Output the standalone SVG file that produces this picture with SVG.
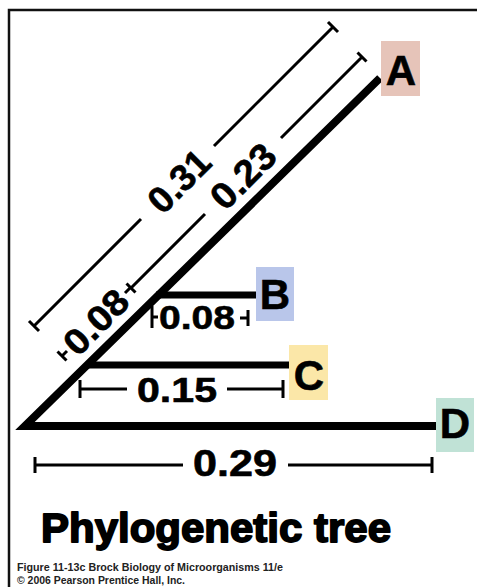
<svg xmlns="http://www.w3.org/2000/svg" width="477" height="587" viewBox="0 0 477 587">
<style>
.frame{fill:none;stroke:#111;stroke-width:2.5}
.branch{fill:none;stroke:#000;stroke-width:8;stroke-linejoin:miter;stroke-miterlimit:10}
.twig{stroke:#000;stroke-width:7}
.bar{stroke:#000;stroke-width:3;fill:none}
.num{font-family:"Liberation Sans",Arial,sans-serif;font-weight:bold;fill:#000;text-anchor:middle;stroke:#000;stroke-width:0.6}
.lbl{font-family:"Liberation Sans",Arial,sans-serif;font-weight:bold;font-size:42px;fill:#000;text-anchor:middle;stroke:#000;stroke-width:0.6}
.title{font-family:"Liberation Sans",Arial,sans-serif;font-weight:900;font-size:41px;fill:#000;stroke:#000;stroke-width:1.8;stroke-linejoin:round}
.cap{font-family:"Liberation Sans",Arial,sans-serif;font-weight:bold;font-size:11px;fill:#222}
</style>
<rect width="477" height="587" fill="#fff"/>
<path class="frame" d="M9,590 V10 H480"/>
<g id="connectors">
  <path class="branch" d="M380,78 L25,426 L437,426"/>
  <line class="twig" x1="156" y1="295" x2="257" y2="295"/>
  <line class="twig" x1="86" y1="365" x2="290" y2="365"/>
</g>
<g id="scale-0.31">
  <path class="bar" d="M34,326 L141,219 M214,146 L333,27 M29,321 L39,331 M328,22 L338,32"/>
  <text class="num" font-size="37" transform="translate(179,181) rotate(-45)" x="0" y="13" textLength="72" lengthAdjust="spacingAndGlyphs">0.31</text>
</g>
<g id="scale-0.23">
  <path class="bar" d="M131,288 L205,214 M281,138 L362,57 M126.5,283.5 L135.5,292.5 M357.5,52.5 L366.5,61.5"/>
  <text class="num" font-size="37" transform="translate(243,176) rotate(-45)" x="0" y="13" textLength="76" lengthAdjust="spacingAndGlyphs">0.23</text>
</g>
<g id="scale-0.08-diag">
  <path class="bar" d="M62,356 L67,351 M125,293 L131,287 M57.5,351.5 L66.5,360.5"/>
  <text class="num" font-size="36" transform="translate(96,322) rotate(-45)" x="0" y="12.5" textLength="76" lengthAdjust="spacingAndGlyphs">0.08</text>
</g>
<g id="scale-0.08-B">
  <path class="bar" d="M152,306 V328 M152,317 H158 M240,318 H248 M248,310 V326"/>
  <text class="num" font-size="34" x="197" y="329" textLength="76" lengthAdjust="spacingAndGlyphs">0.08</text>
</g>
<g id="scale-0.15">
  <path class="bar" d="M80,389 H127 M227,389 H283 M80,380 V398 M283,380 V398"/>
  <text class="num" font-size="35" x="177" y="402" textLength="80" lengthAdjust="spacingAndGlyphs">0.15</text>
</g>
<g id="scale-0.29">
  <path class="bar" d="M35,465 H183 M288,465 H432 M35,457 V473 M432,457 V473"/>
  <text class="num" font-size="36" x="235" y="476" textLength="84" lengthAdjust="spacingAndGlyphs">0.29</text>
</g>
<g id="node-A">
  <rect x="381" y="41" width="39" height="55" fill="#e6c4b9"/>
  <text class="lbl" x="401" y="85">A</text>
</g>
<g id="node-B">
  <rect x="256" y="267" width="38" height="54" fill="#b9c6ea"/>
  <text class="lbl" x="275" y="309">B</text>
</g>
<g id="node-C">
  <rect x="289" y="345" width="39" height="55" fill="#fbe7a8"/>
  <text class="lbl" x="309" y="390">C</text>
</g>
<g id="node-D">
  <rect x="436" y="398" width="38" height="54" fill="#c0e2d6"/>
  <text class="lbl" x="455" y="438">D</text>
</g>
<text class="title" x="41" y="542" textLength="350" lengthAdjust="spacingAndGlyphs">Phylogenetic tree</text>
<text class="cap" x="17" y="571" textLength="266" lengthAdjust="spacingAndGlyphs">Figure 11-13c  Brock Biology of Microorganisms 11/e</text>
<text class="cap" x="17" y="584" textLength="168" lengthAdjust="spacingAndGlyphs">© 2006 Pearson Prentice Hall, Inc.</text>
</svg>
